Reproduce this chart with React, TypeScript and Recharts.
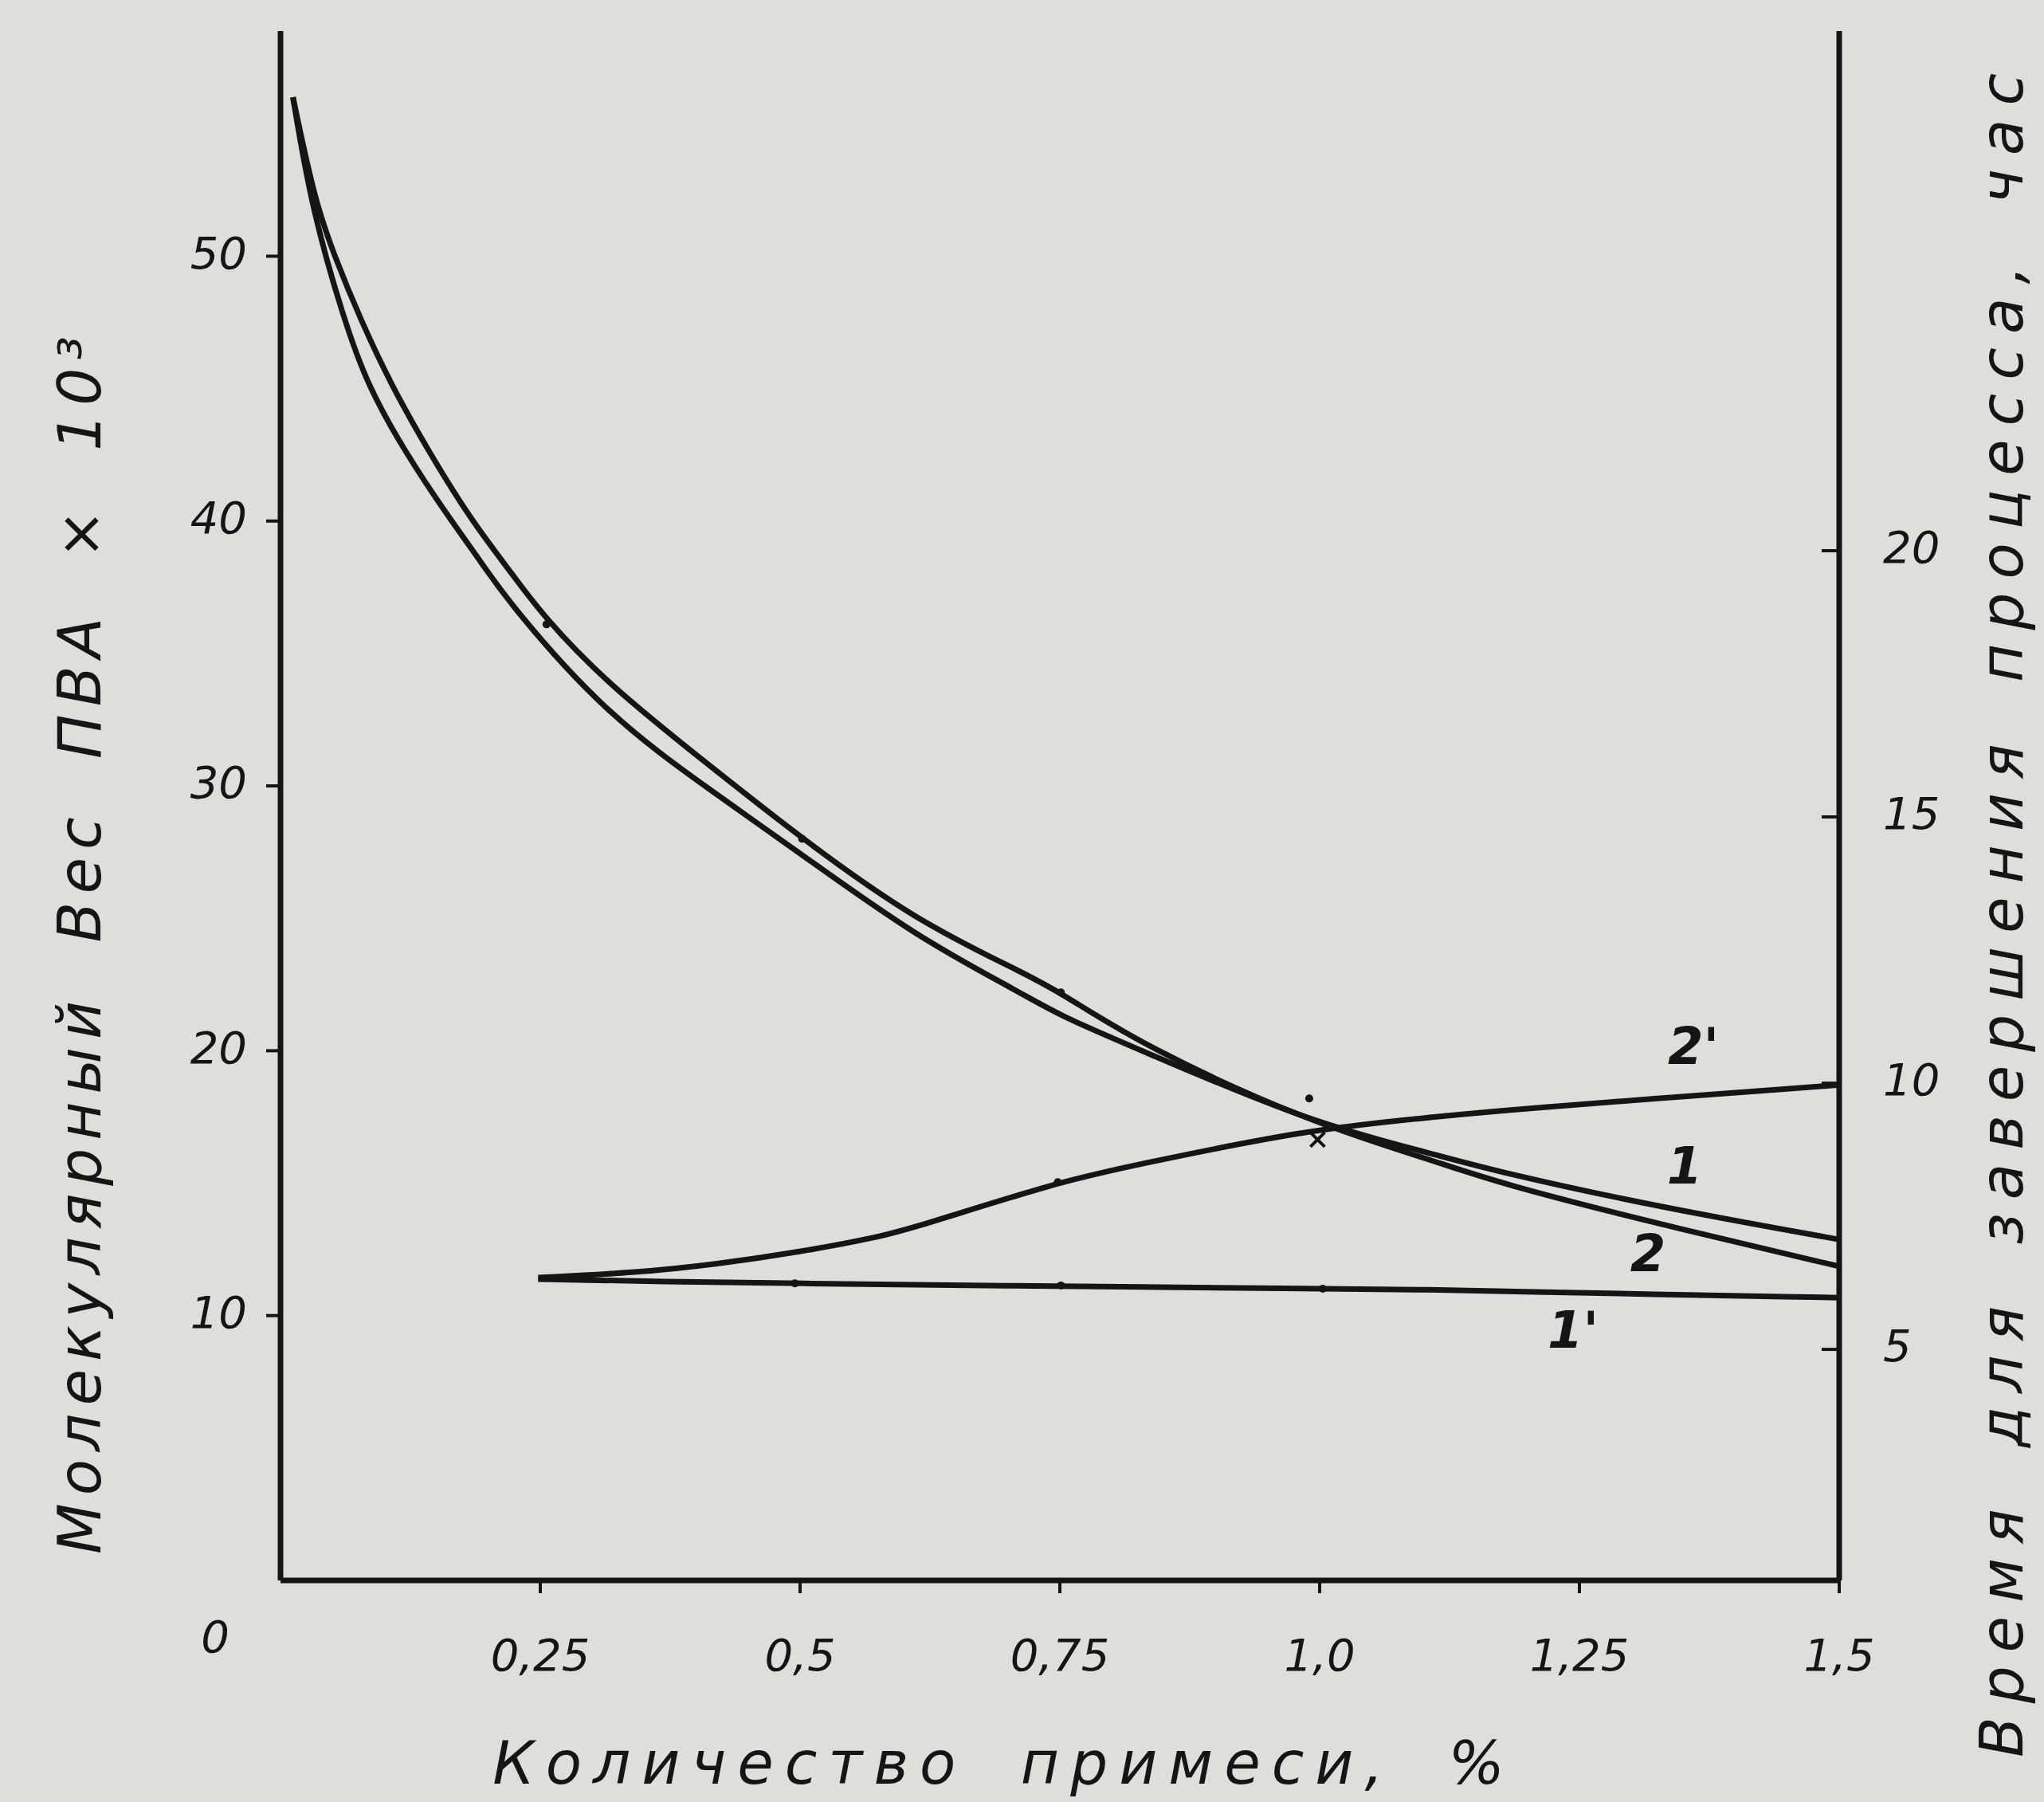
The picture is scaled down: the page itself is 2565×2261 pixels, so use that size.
import { ComposedChart, Line, Scatter, XAxis, YAxis } from "recharts";

// curve 1 and 2: molecular weight (left axis, x10^3)
const curve1X = [0.012, 0.03, 0.061, 0.084, 0.12, 0.159, 0.194, 0.22, 0.313, 0.415, 0.502, 0.612, 0.712, 0.751, 0.829, 0.99, 1.11, 1.172, 1.326, 1.502];
const curve1Y = [56.0, 51.8, 47.6, 45.1, 42.6, 40.3, 38.4, 36.9, 32.7, 29.8, 27.4, 24.3, 22.2, 21.3, 20.0, 17.3, 16.1, 15.42, 14.1, 12.86];
const curve2X = [0.012, 0.033, 0.051, 0.077, 0.107, 0.143, 0.184, 0.225, 0.251, 0.313, 0.415, 0.502, 0.612, 0.712, 0.751, 0.829, 0.99, 1.11, 1.172, 1.326, 1.502];
const curve2Y = [56.0, 52.1, 50.1, 47.6, 45.1, 42.6, 40.0, 37.9, 36.5, 33.9, 30.7, 28.0, 24.9, 23.0, 22.2, 20.2, 17.3, 15.85, 15.0, 13.46, 11.84];

// curve 1' and 2': process time, hours (right axis)
const curve1pX = [0.248, 0.37, 0.495, 0.671, 1.003, 1.11, 1.172, 1.502];
const curve1pY = [6.32, 6.27, 6.24, 6.2, 6.14, 6.12, 6.09, 5.97];
const curve2pX = [0.248, 0.344, 0.42, 0.497, 0.574, 0.612, 0.748, 0.817, 0.988, 1.11, 1.172, 1.502];
const curve2pY = [6.35, 6.44, 6.6, 6.82, 7.1, 7.3, 8.14, 8.44, 9.13, 9.36, 9.49, 9.97];

// measured points
const pointsLeftX = [0.256, 0.502, 0.751, 0.99];
const pointsLeftY = [36.1, 28.0, 22.2, 18.2];
const pointsRightX = [0.495, 0.751, 1.003, 0.748];
const pointsRightY = [6.24, 6.2, 6.14, 8.14];
const crossX = [0.998];
const crossY = [8.94];

const xTicks = [0, 0.25, 0.5, 0.75, 1.0, 1.25, 1.5];
const xTickLabels = ["0", "0,25", "0,5", "0,75", "1,0", "1,25", "1,5"];
const leftTicks = [10, 20, 30, 40, 50];
const rightTicks = [5, 10, 15, 20];

const zip = (xs: number[], ys: number[]) => xs.map((x, i) => ({ x, y: ys[i] }));

const ink = "#151515";
const font = "'DejaVu Sans', sans-serif";

const XTick = (props: any) => {
  const { x, y, payload } = props;
  const i = xTicks.indexOf(payload.value);
  const label = xTickLabels[i] ?? String(payload.value);
  if (payload.value === 0) {
    return (
      <text x={x - 82} y={y + 75} textAnchor="middle" dominantBaseline="middle" fontSize={56} fontStyle="italic" fontFamily={font} fill={ink}>
        {label}
      </text>
    );
  }
  return (
    <g>
      <line x1={x} y1={y} x2={x} y2={y + 16} stroke={ink} strokeWidth={4} />
      <text x={x} y={y + 98} textAnchor="middle" dominantBaseline="middle" fontSize={56} fontStyle="italic" fontFamily={font} fill={ink}>
        {label}
      </text>
    </g>
  );
};

const LeftTick = (props: any) => {
  const { x, y, payload } = props;
  return (
    <g>
      <line x1={x - 18} y1={y} x2={x} y2={y} stroke={ink} strokeWidth={4} />
      <text x={x - 42} y={y} textAnchor="end" dominantBaseline="middle" fontSize={56} fontStyle="italic" fontFamily={font} fill={ink}>
        {payload.value}
      </text>
    </g>
  );
};

const RightTick = (props: any) => {
  const { x, y, payload } = props;
  return (
    <g>
      <line x1={x - 22} y1={y} x2={x} y2={y} stroke={ink} strokeWidth={4} />
      <text x={x + 55} y={y} textAnchor="start" dominantBaseline="middle" fontSize={56} fontStyle="italic" fontFamily={font} fill={ink}>
        {payload.value}
      </text>
    </g>
  );
};

const Dot = (p: any) => <circle cx={p.cx} cy={p.cy} r={5} fill={ink} />;
const Cross = (p: any) => (
  <g stroke={ink} strokeWidth={4}>
    <line x1={p.cx - 9} y1={p.cy - 9} x2={p.cx + 9} y2={p.cy + 9} />
    <line x1={p.cx - 9} y1={p.cy + 9} x2={p.cx + 9} y2={p.cy - 9} />
  </g>
);

const titleStyle: React.CSSProperties = {
  position: "absolute",
  fontFamily: font,
  fontStyle: "italic",
  fontSize: 74,
  color: ink,
  whiteSpace: "nowrap",
  lineHeight: 1,
};

const curveLabelStyle: React.CSSProperties = {
  position: "absolute",
  fontFamily: font,
  fontStyle: "italic",
  fontWeight: "bold",
  fontSize: 64,
  color: ink,
  lineHeight: 1,
  transform: "translate(-50%, -50%)",
};

export default function App() {
  return (
    <div style={{ position: "absolute", left: 0, top: 0, width: 2565, height: 2261, background: "#dfdeda", overflow: "hidden" }}>
      <ComposedChart width={2565} height={2261} margin={{ top: 39, right: 57, bottom: 128, left: 152 }}>
        <XAxis
          type="number"
          dataKey="x"
          domain={[0, 1.5]}
          ticks={xTicks}
          tick={<XTick />}
          tickLine={false}
          tickSize={0}
          tickMargin={0}
          height={150}
          axisLine={{ stroke: ink, strokeWidth: 7 }}
          allowDataOverflow
        />
        <YAxis
          yAxisId="left"
          orientation="left"
          type="number"
          domain={[0, 58.5]}
          ticks={leftTicks}
          tick={<LeftTick />}
          tickLine={false}
          tickSize={0}
          tickMargin={0}
          width={200}
          axisLine={{ stroke: ink, strokeWidth: 7 }}
          allowDataOverflow
        />
        <YAxis
          yAxisId="right"
          orientation="right"
          type="number"
          domain={[0.66, 29.76]}
          ticks={rightTicks}
          tick={<RightTick />}
          tickLine={false}
          tickSize={0}
          tickMargin={0}
          width={200}
          axisLine={{ stroke: ink, strokeWidth: 7 }}
          allowDataOverflow
        />
        <Line yAxisId="left" data={zip(curve1X, curve1Y)} dataKey="y" type="basis" stroke={ink} strokeWidth={7} dot={false} isAnimationActive={false} />
        <Line yAxisId="left" data={zip(curve2X, curve2Y)} dataKey="y" type="basis" stroke={ink} strokeWidth={7} dot={false} isAnimationActive={false} />
        <Line yAxisId="right" data={zip(curve1pX, curve1pY)} dataKey="y" type="basis" stroke={ink} strokeWidth={7} dot={false} isAnimationActive={false} />
        <Line yAxisId="right" data={zip(curve2pX, curve2pY)} dataKey="y" type="basis" stroke={ink} strokeWidth={7} dot={false} isAnimationActive={false} />
        <Scatter yAxisId="left" data={zip(pointsLeftX, pointsLeftY)} dataKey="y" shape={Dot} isAnimationActive={false} />
        <Scatter yAxisId="right" data={zip(pointsRightX, pointsRightY)} dataKey="y" shape={Dot} isAnimationActive={false} />
        <Scatter yAxisId="right" data={zip(crossX, crossY)} dataKey="y" shape={Cross} isAnimationActive={false} />
      </ComposedChart>

      <div style={{ ...titleStyle, left: 100, top: 1181, letterSpacing: 10, wordSpacing: 30, transform: "translate(-50%, -50%) rotate(-90deg)" }}>
        Молекулярный Вес ПВА × 10³
      </div>
      <div style={{ ...titleStyle, left: 2512, top: 1140, fontSize: 74, letterSpacing: 17, wordSpacing: 20, transform: "translate(-50%, -50%) rotate(-90deg)" }}>
        Время для завершения процесса, час
      </div>
      <div style={{ ...titleStyle, left: 1260, top: 2212, letterSpacing: 14, wordSpacing: 30, transform: "translate(-50%, -50%)" }}>
        Количество примеси, %
      </div>

      <div style={{ ...curveLabelStyle, left: 2125, top: 1313 }}>2'</div>
      <div style={{ ...curveLabelStyle, left: 2114, top: 1463 }}>1</div>
      <div style={{ ...curveLabelStyle, left: 2068, top: 1573 }}>2</div>
      <div style={{ ...curveLabelStyle, left: 1974, top: 1669 }}>1'</div>
    </div>
  );
}
